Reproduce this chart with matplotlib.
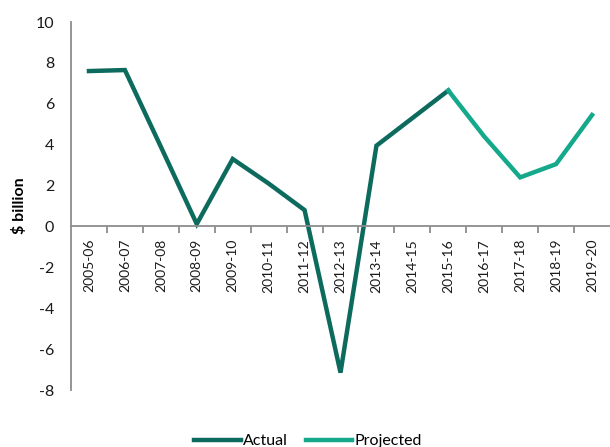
import matplotlib
matplotlib.use("Agg")
import matplotlib.pyplot as plt
import numpy as np

plt.rcParams['font.family'] = ['Lato', 'DejaVu Sans']

categories = ["2005-06", "2006-07", "2007-08", "2008-09", "2009-10", "2010-11",
              "2011-12", "2012-13", "2013-14", "2014-15", "2015-16", "2016-17",
              "2017-18", "2018-19", "2019-20"]
actual = [7.6, 7.65, 3.9, 0.12, 3.3, 2.1, 0.8, -7.15, 3.95, 5.3, 6.65]
projected = [6.65, 4.4, 2.4, 3.05, 5.45]
y_ticks = [-8, -6, -4, -2, 0, 2, 4, 6, 8, 10]

c_actual = "#0d6b5e"
c_proj = "#15a98c"
gray = "#8c8c8c"

fig = plt.figure(figsize=(6.1, 4.47), dpi=100)
ax = fig.add_axes([71/610, 1-390/447, 539/610, 368/447])

x_act = np.arange(len(actual))
x_proj = np.arange(len(actual)-1, len(actual)-1+len(projected))
ax.plot(x_act, actual, color=c_actual, lw=3.2, solid_joinstyle='miter', label="Actual")
ax.plot(x_proj, projected, color=c_proj, lw=3.2, solid_joinstyle='miter', label="Projected")

ax.set_xlim(-0.5, len(categories)-0.5)
ax.set_ylim(-8, 10)
ax.set_yticks(y_ticks)
ax.set_yticklabels([str(v) for v in y_ticks], fontsize=11.5, color="#1a1a1a")
ax.tick_params(axis='y', length=0, pad=12)

ax.spines['bottom'].set_position(('data', 0))
for s in ['top', 'right']:
    ax.spines[s].set_visible(False)
for s in ['left', 'bottom']:
    ax.spines[s].set_color(gray)
    ax.spines[s].set_linewidth(1.3)

ax.set_xticks(np.arange(len(categories)))
ax.set_xticklabels(categories, rotation=90, fontsize=10, color="#1a1a1a")
ax.set_xticks(np.arange(len(categories)-1)+0.5, minor=True)
ax.tick_params(axis='x', which='major', length=0, pad=9)
ax.tick_params(axis='x', which='minor', length=5, width=1.3, color=gray, direction='out')

ax.set_ylabel("$ billion", fontsize=11.5, fontweight='bold', labelpad=6)

fig.legend(loc='lower center', bbox_to_anchor=(0.505, -0.035), ncol=2, frameon=False,
           fontsize=11.5, handlelength=2.9, handletextpad=0.15, columnspacing=1.1)

fig.savefig("out.png", dpi=100)
